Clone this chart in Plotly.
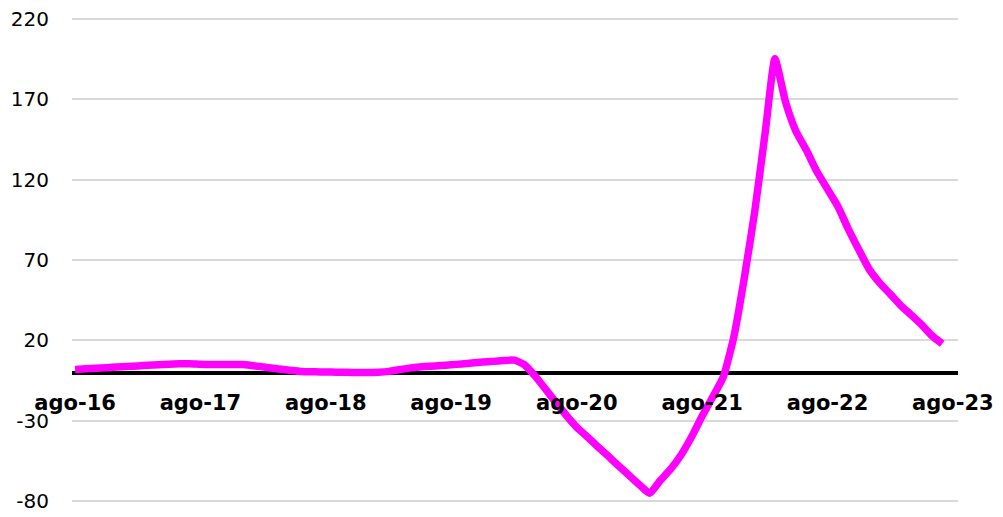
import pandas as pd
import plotly.graph_objects as go

# Monthly dates: ago-16 .. jul-23
dates = pd.date_range("2016-08-01", "2023-07-01", freq="MS")

values = [
    2.0, 2.4, 2.8, 3.1, 3.5, 3.9, 4.2, 4.6, 4.9, 5.2, 5.5, 5.6,       # ago-16 .. jul-17
    5.2, 5.0, 5.0, 5.0, 5.0, 4.3, 3.5, 2.7, 1.9, 1.2, 0.6, 0.5,       # ago-17 .. jul-18
    0.4, 0.3, 0.2, 0.1, 0.1, 0.3, 0.8, 1.8, 2.8, 3.5, 4.0, 4.4,       # ago-18 .. jul-19
    4.9, 5.4, 6.0, 6.6, 7.0, 7.5, 7.8, 5.0, -2.0, -10.0, -18.5, -26.5,  # ago-19 .. jul-20
    -34.0, -40.0, -46.0, -52.0, -58.0, -64.0, -70.0, -75.0, -67.0, -60.0, -51.0, -40.0,  # ago-20 .. jul-21
    -27.0, -15.0, -3.0, 22.0, 58.0, 100.0, 150.0, 195.0, 168.0, 150.0, 138.0, 125.0,  # ago-21 .. jul-22
    114.0, 103.0, 89.0, 76.0, 64.0, 55.5, 48.5, 42.0, 36.0, 30.0, 23.0, 18.0,  # ago-22 .. jul-23
]

tick_dates = ["2016-08-01", "2017-08-01", "2018-08-01", "2019-08-01",
              "2020-08-01", "2021-08-01", "2022-08-01", "2023-08-01"]
tick_labels = ["ago-16", "ago-17", "ago-18", "ago-19",
               "ago-20", "ago-21", "ago-22", "ago-23"]

y_ticks = [-80, -30, 20, 70, 120, 170, 220]
y_tick_labels = ["-80", "-30", "20", "70", "120", "170", "220"]
y_min, y_max = -81, 221

fig = go.Figure()
fig.add_trace(go.Scatter(
    x=dates, y=values, mode="lines",
    line=dict(color="#FF00FF", width=7.5, shape="spline", smoothing=0.5),
    showlegend=False, hoverinfo="skip",
))

fig.update_layout(
    width=995, height=509,
    margin=dict(l=64, r=45, t=9, b=14),
    paper_bgcolor="white", plot_bgcolor="white",
    font=dict(family="DejaVu Sans", color="black"),
    xaxis=dict(
        type="date",
        range=["2016-07-23", "2023-08-16"],
        tickvals=tick_dates, ticktext=tick_labels,
        tickfont=dict(family="DejaVu Sans", size=21, color="black", weight="bold"),
        showgrid=False, zeroline=False, showline=False,
        anchor="free", position=(0 - y_min) / (y_max - y_min),
        ticks="outside", ticklen=11, tickcolor="rgba(0,0,0,0)",
        automargin=False, ticklabeloverflow="allow",
    ),
    yaxis=dict(
        range=[y_min, y_max],
        tickvals=y_ticks, ticktext=y_tick_labels,
        tickfont=dict(family="DejaVu Sans", size=20, color="black"),
        showgrid=True, gridcolor="#D9D9D9", gridwidth=2,
        zeroline=True, zerolinecolor="black", zerolinewidth=4,
        showline=False,
        ticks="outside", ticklen=18, tickcolor="rgba(0,0,0,0)",
        automargin=False, ticklabeloverflow="allow",
    ),
)

fig.write_html("out.html")
